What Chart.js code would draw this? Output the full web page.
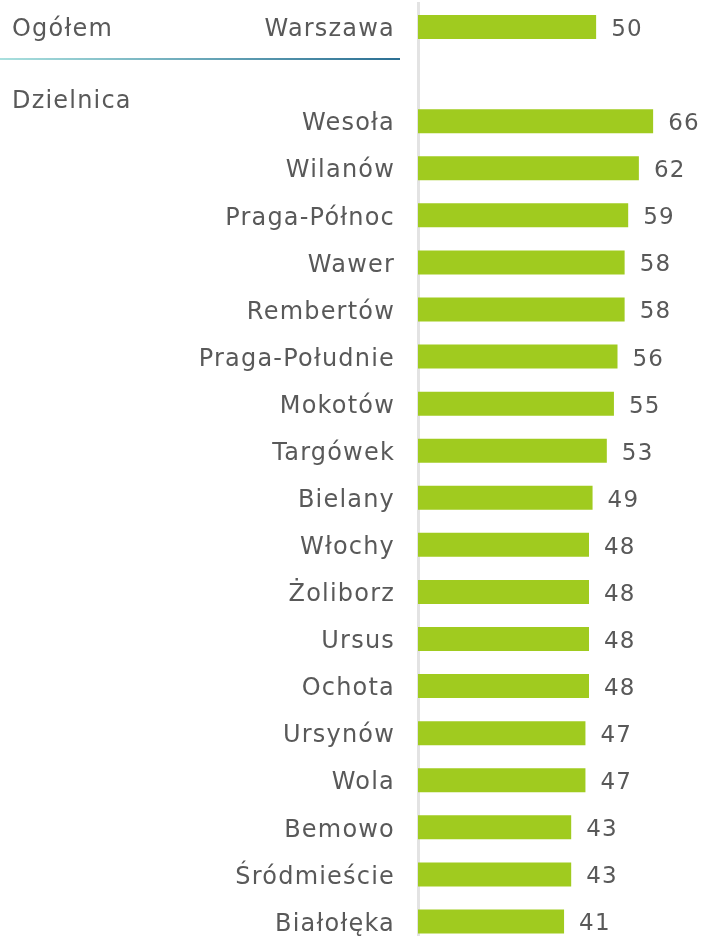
<!DOCTYPE html>
<html>
<head>
<meta charset="utf-8">
<script src="https://cdn.jsdelivr.net/npm/chart.js@4"></script>
<style>
  html, body { margin: 0; padding: 0; background: #fff; overflow: hidden; }
  #wrap { width: 703px; height: 945px; position: relative; }
</style>
</head>
<body>
<div id="wrap"><canvas id="chart"></canvas></div>
<script>
// categories (blank row separates total from districts)
const labels = ['Warszawa', '', 'Wesoła', 'Wilanów', 'Praga-Północ', 'Wawer', 'Rembertów',
  'Praga-Południe', 'Mokotów', 'Targówek', 'Bielany', 'Włochy', 'Żoliborz', 'Ursus',
  'Ochota', 'Ursynów', 'Wola', 'Bemowo', 'Śródmieście', 'Białołęka'];
const values = [50, null, 66, 62, 59, 58, 58, 56, 55, 53, 49, 48, 48, 48, 48, 47, 47, 43, 43, 41];
const groupLabels = ['Ogółem', 'Dzielnica'];

const FONT = 'DejaVu Sans';
const TEXT = '#595959';
const SPACING = '1.2px';

// slightly wider letters, closer to the original typeface
const spacing = {
  id: 'spacing',
  beforeDraw(chart) { chart.ctx.letterSpacing = SPACING; },
  afterDraw(chart) { chart.ctx.letterSpacing = '0px'; }
};

// value labels + group labels + separator line
const extras = {
  id: 'extras',
  afterDatasetsDraw(chart) {
    const ctx = chart.ctx;
    const y = chart.scales.y;
    const meta = chart.getDatasetMeta(0);
    ctx.save();
    ctx.letterSpacing = SPACING;
    ctx.font = '23px "' + FONT + '"';
    ctx.fillStyle = TEXT;
    ctx.textBaseline = 'middle';
    ctx.textAlign = 'left';
    meta.data.forEach((bar, i) => {
      if (values[i] == null) return;
      ctx.fillText(values[i], bar.x + 15, bar.y + 3);
    });
    ctx.font = '24px "' + FONT + '"';
    const step = y.getPixelForValue(1) - y.getPixelForValue(0);
    ctx.fillText(groupLabels[0], 12, y.getPixelForValue(0) + 3);
    ctx.fillText(groupLabels[1], 12, y.getPixelForValue(1) + step * 0.55 + 2);
    const ly = y.getPixelForValue(0) + step * 0.68;
    const g = ctx.createLinearGradient(0, 0, 400, 0);
    g.addColorStop(0, '#a9e0de');
    g.addColorStop(1, '#2b6f93');
    ctx.strokeStyle = g;
    ctx.lineWidth = 2;
    ctx.beginPath();
    ctx.moveTo(0, ly);
    ctx.lineTo(400, ly);
    ctx.stroke();
    ctx.restore();
  }
};

new Chart(document.getElementById('chart'), {
  type: 'bar',
  data: {
    labels: labels,
    datasets: [{
      data: values,
      backgroundColor: '#a0cb1f',
      barPercentage: 0.51,
      categoryPercentage: 1.0
    }]
  },
  options: {
    indexAxis: 'y',
    responsive: true,
    maintainAspectRatio: false,
    animation: false,
    layout: { padding: { top: 3.5, right: 0, bottom: 0, left: 0 } },
    plugins: { legend: { display: false }, tooltip: { enabled: false } },
    scales: {
      x: { display: false, min: 0, max: 80 },
      y: {
        afterFit(scale) {
          scale.width = 418;
          scale.paddingTop = 0;
          scale.paddingBottom = 0;
        },
        grid: { display: false, drawTicks: false },
        border: { display: true, color: '#e3e3e3', width: 3 },
        ticks: {
          padding: 23,
          labelOffset: 3,
          color: TEXT,
          font: { family: FONT, size: 24 }
        }
      }
    }
  },
  plugins: [spacing, extras]
});
</script>
</body>
</html>
